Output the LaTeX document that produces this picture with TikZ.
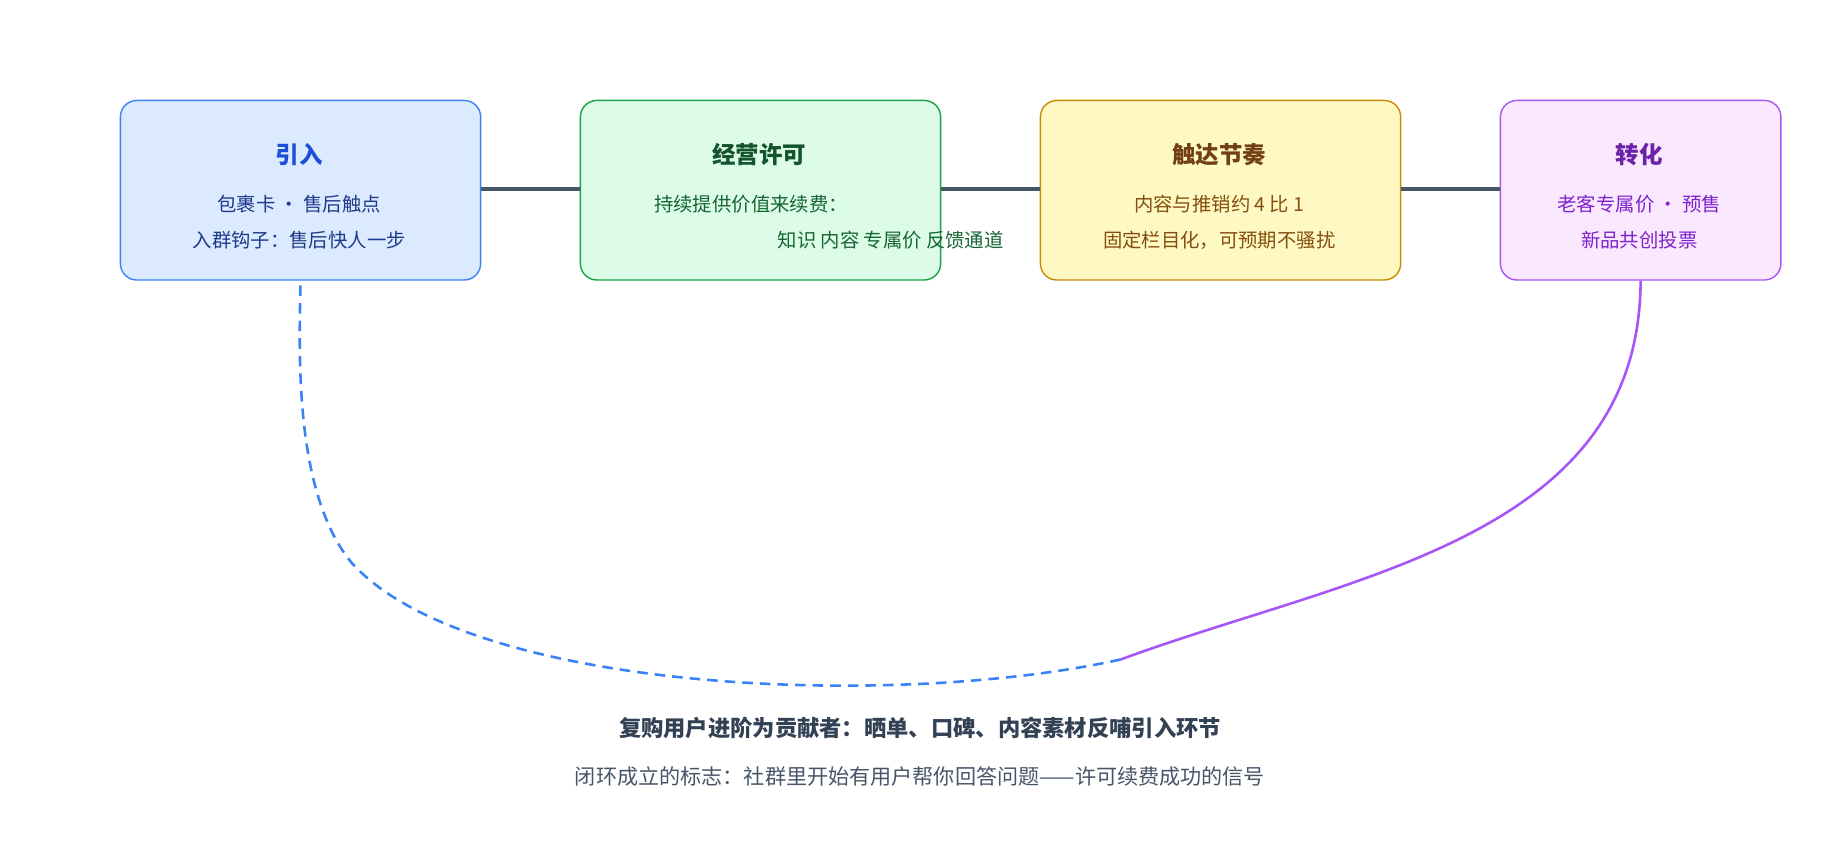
\documentclass[tikz,border=0pt]{standalone}
\usepackage{fontspec}
\setmainfont{Noto Sans CJK SC}
\usetikzlibrary{positioning}

\definecolor{blueline}{HTML}{3B82F6}
\definecolor{bluefill}{HTML}{DBEAFE}
\definecolor{bluetext}{HTML}{1D4ED8}
\definecolor{bluebody}{HTML}{1E3A8A}
\definecolor{greenline}{HTML}{16A34A}
\definecolor{greenfill}{HTML}{DCFCE7}
\definecolor{greentext}{HTML}{14532D}
\definecolor{greenbody}{HTML}{166534}
\definecolor{yellowline}{HTML}{CA8A04}
\definecolor{yellowfill}{HTML}{FEF9C3}
\definecolor{yellowtext}{HTML}{713F12}
\definecolor{yellowbody}{HTML}{854D0E}
\definecolor{purpleline}{HTML}{A855F7}
\definecolor{purplefill}{HTML}{FAE8FF}
\definecolor{purpletext}{HTML}{6B21A8}
\definecolor{purplebody}{HTML}{7E22CE}
\definecolor{linkgray}{HTML}{475569}
\definecolor{foottext}{HTML}{334155}
\definecolor{notetext}{HTML}{475569}

\begin{document}
\begin{tikzpicture}[
    x = 1pt, y = -1pt,
    stage/.style = {
        draw, line width = 1.2pt, rounded corners = 14pt,
        minimum height = 153pt, anchor = north west
    },
    title/.style = {font = \fontsize{20}{24}\selectfont\bfseries},
    body/.style = {font = \fontsize{16.5}{20}\selectfont},
    link/.style = {draw = linkgray, line width = 3pt}
]

\useasboundingbox (0,0) rectangle (1568,733);

% stages
\node [stage, draw = blueline, fill = bluefill, minimum width = 307pt] (intro) at (102,85) {};
\node [stage, draw = greenline, fill = greenfill, minimum width = 307pt] (licence) at (494,85) {};
\node [stage, draw = yellowline, fill = yellowfill, minimum width = 307pt] (rhythm) at (886,85) {};
\node [stage, draw = purpleline, fill = purplefill, minimum width = 239pt] (convert) at (1278,85) {};

% links between stages
\draw [link] (intro.east |- 0,161) -- (licence.west |- 0,161);
\draw [link] (licence.east |- 0,161) -- (rhythm.west |- 0,161);
\draw [link] (rhythm.east |- 0,161) -- (convert.west |- 0,161);

% texts
\node [title, text = bluetext] (introT) at (255,132) {引入};
\node [body, text = bluebody] (introA) at (255,174) {包裹卡 · 售后触点};
\node [body, text = bluebody] (introB) at (255,205) {入群钩子：售后快人一步};

\node [title, text = greentext] (licenceT) at (647,132) {经营许可};
\node [body, text = greenbody] (licenceA) at (640,174) {持续提供价值来续费：};
\node [body, text = greenbody] (licenceB) at (759,205) {知识 内容 专属价 反馈通道};

\node [title, text = yellowtext] (rhythmT) at (1039,132) {触达节奏};
\node [body, text = yellowbody] (rhythmA) at (1039,174) {内容与推销约 4 比 1};
\node [body, text = yellowbody] (rhythmB) at (1039,205) {固定栏目化，可预期不骚扰};

\node [title, text = purpletext] (convertT) at (1397,132) {转化};
\node [body, text = purplebody] (convertA) at (1397,174) {老客专属价 · 预售};
\node [body, text = purplebody] (convertB) at (1397,205) {新品共创投票};

% loop back
\coordinate (meet) at (955,562);
\draw [purpleline, line width = 2.2pt]
    (convert.south) .. controls (1397,460) and (1150,490) .. (meet);
\draw [blueline, line width = 2.2pt, dash pattern = on 9pt off 6pt]
    (meet) .. controls (760,605) and (400,590) .. (300,480)
    .. controls (250,420) and (255,300) .. (intro.south);

% footer
\node [font = \fontsize{19}{23}\selectfont\bfseries, text = foottext] (loopT) at (784,620)
    {复购用户进阶为贡献者：晒单、口碑、内容素材反哺引入环节};
\node [font = \fontsize{18}{22}\selectfont, text = notetext] (loopN) at (784,662)
    {闭环成立的标志：社群里开始有用户帮你回答问题——许可续费成功的信号};

\end{tikzpicture}
\end{document}
